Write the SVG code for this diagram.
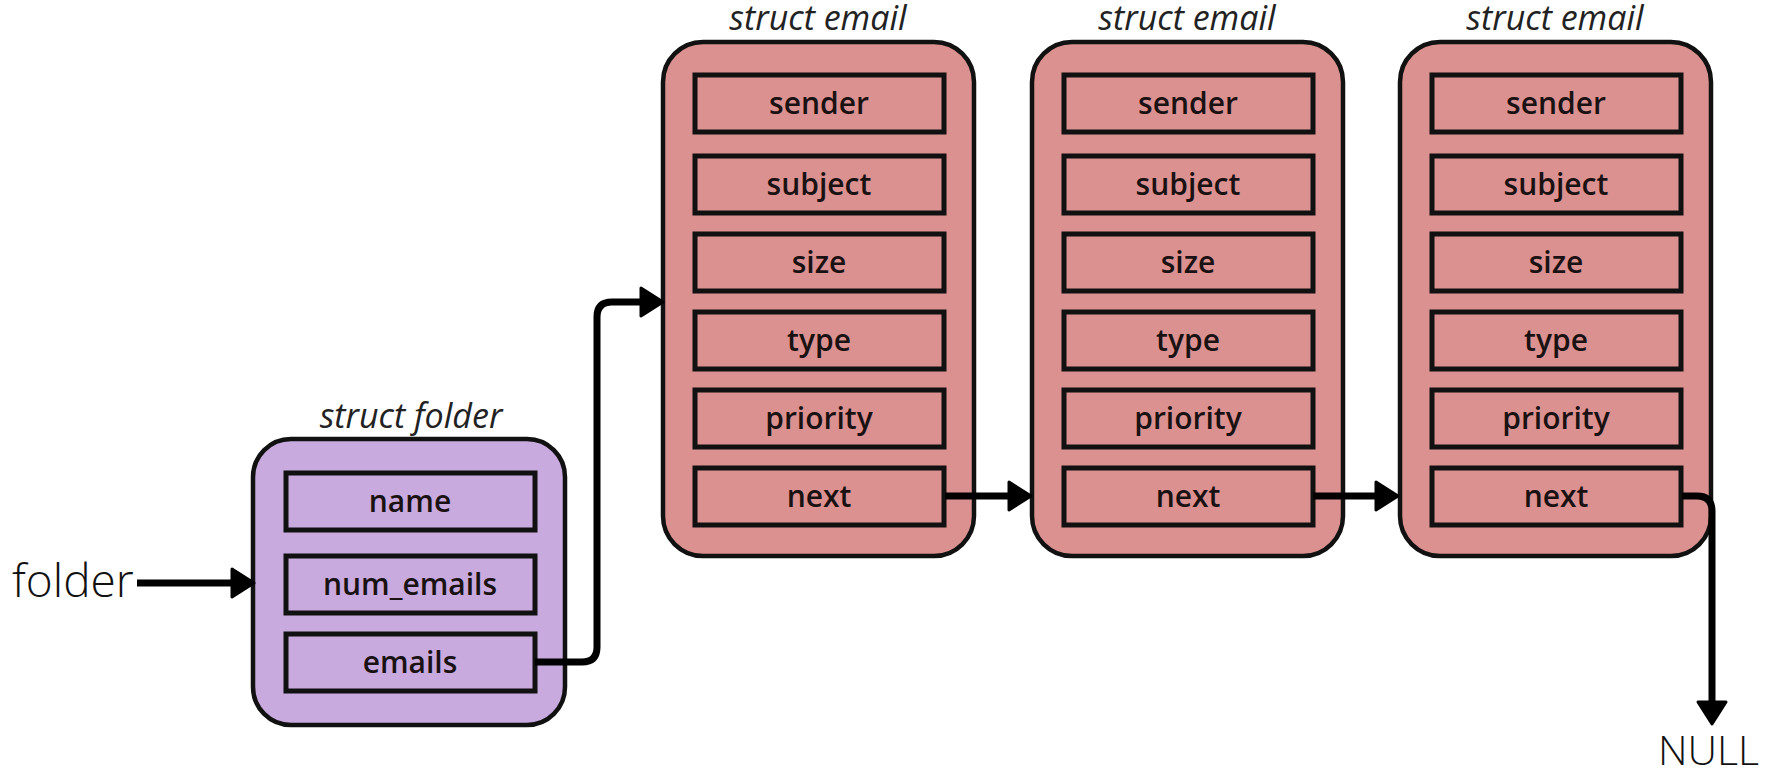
<svg xmlns="http://www.w3.org/2000/svg" width="1789" height="771" viewBox="0 0 1789 771">
  <style>
    .outer { stroke: #111; stroke-width: 4.5; }
    .lilac { fill: #c9aadf; }
    .rose { fill: #dc9191; }
    .field { stroke: #111; stroke-width: 5; }
    .fname { font-family: "Open Sans", "Liberation Sans", sans-serif; font-weight: 600; font-size: 30px; fill: #1a1212; text-anchor: middle; }
    .title { font-family: "Open Sans", "Liberation Sans", sans-serif; font-style: italic; font-size: 34px; fill: #222; text-anchor: middle; }
    .plain { font-family: "Open Sans", "Liberation Sans", sans-serif; font-weight: 300; fill: #111; }
    .link { fill: none; stroke: #000; stroke-width: 7; marker-end: url(#head); }
  </style>
  <defs>
    <marker id="head" markerUnits="userSpaceOnUse" markerWidth="30" markerHeight="36" refX="5" refY="17" orient="auto">
      <path d="M3,3 L25,17 L3,31 Z" fill="#000" stroke="#000" stroke-width="3" stroke-linejoin="round"/>
    </marker>
    <!-- one struct email record, placed by x offset -->
    <g id="emailBody">
      <rect class="outer rose" x="0" y="42" width="311" height="514" rx="40"/>
      <rect class="field rose" x="32" y="75" width="249" height="57"/>
      <rect class="field rose" x="32" y="156" width="249" height="57"/>
      <rect class="field rose" x="32" y="234" width="249" height="57"/>
      <rect class="field rose" x="32" y="312" width="249" height="57"/>
      <rect class="field rose" x="32" y="390" width="249" height="57"/>
      <rect class="field rose" x="32" y="468" width="249" height="57"/>
      <text class="title" x="155" y="30">struct email</text>
      <text class="fname" x="156" y="114">sender</text>
      <text class="fname" x="156" y="195">subject</text>
      <text class="fname" x="156" y="273">size</text>
      <text class="fname" x="156" y="351">type</text>
      <text class="fname" x="156" y="429">priority</text>
      <text class="fname" x="156" y="507">next</text>
    </g>
  </defs>

  <!-- pointer variable -->
  <g id="folder-var">
    <text class="plain" x="12" y="597" font-size="46">folder</text>
  </g>

  <!-- struct folder -->
  <g id="folder">
    <text class="title" x="411" y="428">struct folder</text>
    <rect class="outer lilac" x="253" y="439" width="312" height="286" rx="38"/>
    <rect class="field lilac" x="286" y="473" width="249" height="57"/>
    <rect class="field lilac" x="286" y="556" width="249" height="57"/>
    <rect class="field lilac" x="286" y="634" width="249" height="57"/>
    <text class="fname" x="410" y="512">name</text>
    <text class="fname" x="410" y="595">num_emails</text>
    <text class="fname" x="410" y="673">emails</text>
  </g>

  <!-- linked list of emails -->
  <g id="email1">
    <use href="#emailBody" x="663" y="0"/>
  </g>
  <g id="email2">
    <use href="#emailBody" x="1032" y="0"/>
  </g>
  <g id="email3">
    <use href="#emailBody" x="1400" y="0"/>
  </g>

  <!-- terminator -->
  <g id="null">
    <text class="plain" x="1658" y="765" font-size="41">NULL</text>
  </g>

  <!-- pointers -->
  <g id="connectors">
    <path class="link" d="M137,583 H234"/>
    <path class="link" d="M535,662 H582 Q597,662 597,647 V317 Q597,302 612,302 H643"/>
    <path class="link" d="M945,496 H1011"/>
    <path class="link" d="M1313,496 H1378"/>
    <path class="link" d="M1682,496 H1697 Q1712,496 1712,511 V704"/>
  </g>
</svg>
